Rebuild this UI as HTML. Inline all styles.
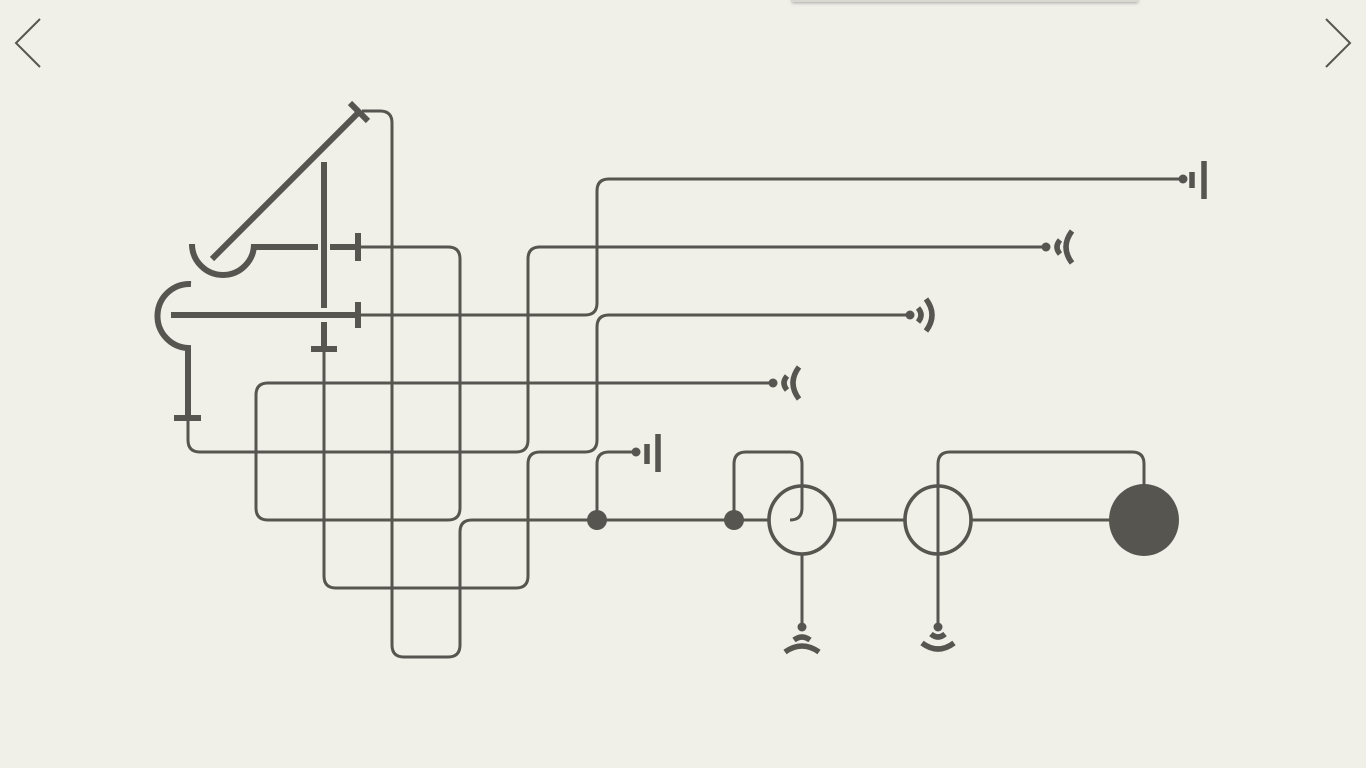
<!DOCTYPE html>
<html><head><meta charset="utf-8"><style>
html,body{margin:0;padding:0;background:#f0efe8;width:1366px;height:768px;overflow:hidden}
svg{display:block}
</style></head><body>
<svg width="1366" height="768" viewBox="0 0 1366 768">
<defs><filter id="sh" x="-10%" y="-100%" width="120%" height="400%"><feDropShadow dx="0" dy="1" stdDeviation="1.5" flood-color="#888" flood-opacity="0.7"/></filter></defs>
<rect x="792" y="-4" width="346" height="6" fill="#d8d7d0" filter="url(#sh)"/>
<g fill="none" stroke="#57554f" stroke-width="2">
<polyline points="40,19 16,43 40,67"/>
<polyline points="1326,19 1350,43 1326,67"/>
</g>
<g fill="none" stroke="#57554f" stroke-width="3" stroke-linejoin="round">
<path d="M362,111 H380 Q392,111 392,123 V645 Q392,657 404,657 H448 Q460,657 460,645 V532 Q460,520 472,520 H770"/>
<path d="M775,383 H268 Q256,383 256,395 V508 Q256,520 268,520 H448 Q460,520 460,508 V259 Q460,247 448,247 H360"/>
<path d="M360,315 H585 Q597,315 597,303 V191 Q597,179 609,179 H1183"/>
<path d="M188,418 V440 Q188,452 200,452 H516 Q528,452 528,440 V259 Q528,247 540,247 H1046"/>
<path d="M910,315 H609 Q597,315 597,327 V440 Q597,452 585,452 H540 Q528,452 528,464 V576 Q528,588 516,588 H336 Q324,588 324,576 V350"/>
<path d="M597,520 V464 Q597,452 609,452 H636"/>
<path d="M734,520 V464 Q734,452 746,452 H790 Q802,452 802,464 V508 Q802,520 790,520"/>
<path d="M836,520 H905 M972,520 H1110"/>
<path d="M802,553 V627"/>
<path d="M938,627 V464 Q938,452 950,452 H1132 Q1144,452 1144,464 V487"/>
</g>
<g fill="none" stroke="#57554f" stroke-width="3.6">
<ellipse cx="802" cy="520" rx="33" ry="34"/>
<ellipse cx="938" cy="520" rx="33" ry="34"/>
</g>
<g fill="#57554f">
<circle cx="597" cy="520" r="10"/>
<circle cx="734" cy="520" r="10"/>
<ellipse cx="1144" cy="520" rx="35" ry="36"/>
<circle cx="1183" cy="179" r="4.5"/><circle cx="636" cy="452" r="4.5"/>
<circle cx="1046" cy="247" r="4.5"/><circle cx="910" cy="315" r="4.5"/>
<circle cx="773" cy="383" r="4.5"/><circle cx="802" cy="627" r="4.5"/><circle cx="938" cy="627" r="4.5"/>
</g>
<g fill="none" stroke="#57554f" stroke-width="5.5">
<path d="M1192,172 V188 M1204,161 V199"/>
<path d="M647,444 V464 M658,434 V472"/>
<path d="M1060,240 Q1054,247 1060,254 M1072,231 Q1060,247 1072,263"/>
<path d="M787,376 Q781,383 787,390 M799,367 Q787,383 799,399"/>
<path d="M918,308 Q924,315 918,322 M926,299 Q938,315 926,331"/>
<path d="M794,640 Q802,634 810,640 M785,652 Q802,640 819,652"/>
<path d="M931,634 Q938,640 945,634 M922,643 Q938,655 954,643"/>
</g>
<g fill="none" stroke="#57554f" stroke-width="6">
<path d="M212,259 L358,113 M350,103 L368,121"/>
<path d="M324,162 V308 M324,322 V349 M311,349 H337"/>
<path d="M253,247 H318 M330,247 H358 M358,233 V261"/>
<path d="M192,244 A30,30 0 0 0 254,244"/>
<path d="M191,284 A32,32 0 0 0 188,348 V418 M174,418 H201"/>
<path d="M171,315 H358 M358,302 V328"/>
</g>
</svg>
</body></html>
